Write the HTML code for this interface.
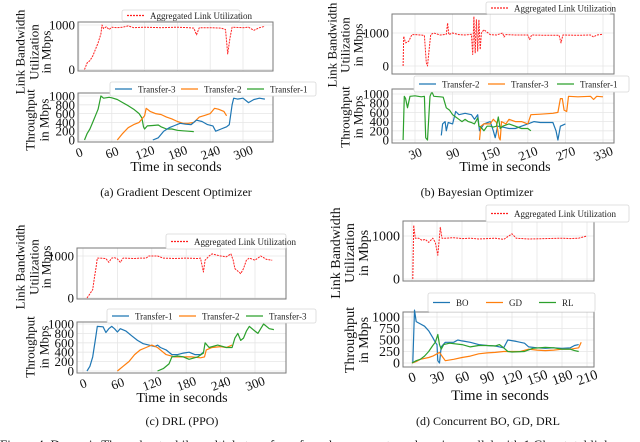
<!DOCTYPE html>
<html><head><meta charset="utf-8"><style>
html,body{margin:0;padding:0;background:#fff;width:640px;height:442px;overflow:hidden}
svg{display:block}
</style></head><body>
<svg id="fig" width="640" height="442" viewBox="0 0 640 442" xmlns="http://www.w3.org/2000/svg"></svg>
<script>
// ---------- DATA ----------
const aAggT=[10,15,20,25,30,35,40,42,45,50,55,60,70,80,90,100,120,150,180,200,210,215,220,240,260,268,272,276,280,300,310,320,330,340];
const aAggV=[0,150,200,300,450,600,800,1000,920,960,900,950,940,950,980,940,950,940,950,940,930,780,940,940,930,900,350,700,950,940,950,880,940,970];
const aT1T=[10,15,20,25,30,35,40,45,55,60,70,80,90,100,110,115,118,120,125,135,145,150,160,170,180,190,200,210];
const aT1V=[0,150,250,400,550,700,1000,950,970,960,920,850,780,700,600,500,300,250,320,330,340,300,250,250,220,210,200,190];
const aT2T=[70,80,90,100,110,120,123,130,140,150,160,170,180,190,200,210,220,230,240,248,255,265,270];
const aT2V=[0,150,280,350,400,550,720,650,600,580,520,480,420,380,380,400,520,560,600,720,700,650,550];
const aT3T=[135,145,155,165,175,185,195,205,215,225,235,245,250,260,270,275,280,283,290,300,310,320,330,340];
const aT3V=[0,50,200,280,330,380,360,350,450,420,350,320,200,250,300,350,800,950,930,950,850,920,950,930];
const bAggT=[11,12,15,20,25,30,40,45,48,50,52,55,60,70,80,82,84,90,100,110,120,122,124,126,128,130,132,134,136,140,150,160,170,172,175,190,210,213,216,240,260,263,266,290,310,315,320,330];
const bAggV=[0,900,700,750,950,950,940,920,100,0,400,950,1000,940,960,1300,950,1000,950,940,960,350,1500,400,1400,450,1400,500,1000,1100,950,940,1000,880,950,940,940,800,940,930,930,700,940,930,940,880,940,960];
const bT1T=[11,13,15,18,22,30,40,45,47,50,52,54,57,60,70,75,80,85,90,95,100,105,110,115,120,125,130,132,135,140,145,150,155,160,163,166,170,180,190,200,210,215];
const bT1V=[0,950,900,700,950,960,940,950,50,0,500,950,1050,950,940,930,700,650,550,500,450,400,450,400,380,350,480,300,280,200,300,300,280,300,500,250,300,350,300,250,250,200];
const bT2T=[72,74,78,80,83,90,95,100,110,120,125,130,133,140,150,155,158,162,170,180,190,200,210,220,230,240,250,255,258,262,270];
const bT2V=[100,350,400,200,380,350,620,550,580,550,450,550,200,350,400,200,50,300,280,250,250,300,350,400,380,380,380,200,0,300,350];
const bT3T=[133,135,140,150,155,160,164,166,168,175,180,190,200,210,215,230,250,258,262,265,268,272,275,290,310,315,320,330];
const bT3V=[0,300,350,350,450,380,50,0,400,350,450,400,400,350,550,560,580,600,900,900,650,620,950,940,950,880,950,940];
const cAggT=[7,12,17,20,23,25,30,40,45,50,55,60,65,70,90,100,110,115,130,140,160,180,200,205,210,213,220,225,240,250,258,262,265,275,280,285,290,300,310,320,330];
const cAggV=[0,100,200,500,750,950,950,940,850,950,960,930,850,950,940,950,950,1000,1000,950,940,950,940,950,620,900,1000,1050,1000,980,1050,900,700,580,700,900,950,900,1000,920,900];
const cT1T=[7,12,17,22,25,35,40,45,50,55,60,65,75,85,95,105,115,125,130,135,145,155,165,175,185,195,205,210];
const cT1V=[0,100,300,700,950,940,820,900,950,900,830,900,850,750,650,580,550,520,550,500,450,350,350,380,400,350,350,400];
const cT2T=[60,70,80,90,100,110,120,130,135,145,160,175,190,205,212,215,225,240,250,260];
const cT2V=[0,100,200,350,450,500,550,500,450,350,300,300,300,280,300,450,500,520,500,550];
const cT3T=[130,140,150,155,165,175,185,200,210,213,220,235,250,260,265,270,275,280,285,290,300,305,310,315,325,333];
const cT3V=[0,50,150,300,320,300,250,300,380,600,500,550,500,500,700,800,650,700,850,950,850,800,900,1000,900,880];
const dAggT=[1,2,4,8,12,16,20,25,28,31,34,36,40,50,60,70,80,90,100,110,120,125,140,160,180,190,200,210];
const dAggV=[0,1250,950,950,900,920,850,950,850,550,1200,950,950,960,940,950,930,940,950,920,1050,950,930,940,950,940,950,1000];
const dBOT=[1,3,5,10,15,20,25,28,30,31,33,35,40,50,55,60,70,80,90,100,110,115,125,135,140,150,160,170,180,190,195,200];
const dBOV=[0,1150,900,850,800,700,550,450,400,50,0,350,450,450,500,480,450,400,380,370,330,500,470,430,350,330,320,330,320,330,380,400];
const dGDT=[0,5,10,20,25,30,33,36,40,50,60,70,80,90,100,110,120,130,140,150,160,170,180,190,200,203];
const dGDV=[0,30,80,120,150,200,230,150,50,80,120,150,200,220,230,250,250,250,300,280,270,280,300,300,330,450];
const dRLT=[0,5,10,15,20,25,28,31,33,35,38,45,60,70,80,90,100,105,110,115,120,135,145,160,170,180,190,195,200];
const dRLV=[0,50,80,150,250,380,450,620,400,300,400,430,400,350,380,380,370,400,330,250,240,250,320,340,330,300,300,270,250];
const aXTicks=[0,60,120,180,240,300];
const bXTicks=[30,90,150,210,270,330];
const cXTicks=[0,60,120,180,240,300];
const dXTicks=[0,30,60,90,120,150,180,210];
const topYTicks=[0,1000];
const thrYTicks=[0,200,400,600,800,1000];
const dThrYTicks=[0,250,500,750,1000];

// ---------- DRAWING ----------
const NS='http://www.w3.org/2000/svg';
const svg=document.getElementById('fig');
function mk(tag,attrs,parent){const e=document.createElementNS(NS,tag);for(const k in attrs)e.setAttribute(k,attrs[k]);(parent||svg).appendChild(e);return e;}
function txt(s,attrs,parent){const fs=attrs['font-size'];delete attrs['font-size'];
  attrs.style="font-family:'Liberation Serif','Times New Roman',serif;font-size:"+fs+"px";
  const e=mk('text',attrs,parent);e.textContent=s;return e;}
const BLUE='#1f77b4',ORANGE='#ff7f0e',GREEN='#2ca02c';

function axes(box,xa,ya,xTicks,yTicks,name,showXLabels,xlabY,fs){
  fs=fs||13;
  const sx=v=>xa[1]+(v-xa[0])*(xa[3]-xa[1])/(xa[2]-xa[0]);
  const sy=v=>ya[0]+v*(ya[1]-ya[0])/1000;
  const g=mk('g',{});
  
  
  xTicks.forEach(t=>{const x=sx(t);if(x>box[0]&&x<box[1]){const l=mk('line',{x1:x,x2:x,y1:box[2],y2:box[3],stroke:'#e6e6e6','stroke-width':0.8},g);}});
  yTicks.forEach(v=>{const y=sy(v);const l=mk('line',{x1:box[0],x2:box[1],y1:y,y2:y,stroke:'#e6e6e6','stroke-width':0.8},g);
    const t=txt(String(v),{x:box[0]-3,y:y+4.5,'text-anchor':'end','font-size':fs,fill:'#111'},g);});
  const fr=mk('rect',{x:box[0],y:box[2],width:box[1]-box[0],height:box[3]-box[2],fill:'none',stroke:'#7a7a7a','stroke-width':1},g);
  
  if(showXLabels){xTicks.forEach(t=>{const x=sx(t);const lb=txt(String(t),{x:x,y:xlabY,'text-anchor':'middle','font-size':fs,fill:'#111',transform:`rotate(-20 ${x} ${xlabY-5})`},g);});}
  return {sx,sy,g};
}
function series(ax,T,V,color,name,dash){
  const d=T.map((t,i)=>(i?'L':'M')+ax.sx(t).toFixed(1)+','+ax.sy(V[i]).toFixed(1)).join('');
  const p=mk('path',{d:d,fill:'none',stroke:color,'stroke-width':dash?1:1.2,'stroke-dasharray':dash?'2,1':'none','stroke-linejoin':'round'},ax.g);
  
  
}
function legend(x,y,w,h,entries,name){
  const g=mk('g',{});
  
  
  mk('rect',{x:x,y:y,width:w,height:h,rx:2,fill:'#fff',stroke:'#d8d8d8','stroke-width':0.8},g);
  const n=entries.length,step=(w-8)/n;
  entries.forEach((e,i)=>{const lx=x+5+i*step,cy=y+h/2;
    const it=mk('g',{},g);
    mk('line',{x1:lx,x2:lx+17,y1:cy,y2:cy,stroke:e[1],'stroke-width':1.2,'stroke-dasharray':e[2]?'2,1':'none'},it);
    txt(e[0],{x:lx+23,y:cy+3.3,'font-size':9,fill:'#222'},it);});
}
function ylabel(lines,xs,cy,name,fs){
  const g=mk('g',{});
  lines.forEach((s,i)=>txt(s,{x:xs[i],y:cy+0,'text-anchor':'middle','font-size':fs||13,fill:'#111',transform:`rotate(-90 ${xs[i]} ${cy})`,dy:'0.35em'},g));
}
function label(s,x,y,fs,name){const t=txt(s,{x:x,y:y,'text-anchor':'middle','font-size':fs,fill:'#111'});}

// (a)
let ax=axes([78,273,22,71],[0,79,300,243],[69.5,25],aXTicks,topYTicks,'a-utilization-plot',false);
series(ax,aAggT,aAggV,'#ff2020','a-aggregated-line',true);
ax=axes([78,273,93,142],[0,79,300,243],[140,96],aXTicks,thrYTicks,'a-throughput-plot',true,157);
series(ax,aT1T,aT1V,GREEN,'a-transfer-1-line');series(ax,aT2T,aT2V,ORANGE,'a-transfer-2-line');series(ax,aT3T,aT3V,BLUE,'a-transfer-3-line');
legend(122,10,118,11,[['Aggregated Link Utilization','#ff2020',true]],'a-top-legend');
legend(110,82,206,14,[['Transfer-3',BLUE],['Transfer-2',ORANGE],['Transfer-1',GREEN]],'a-bottom-legend');
ylabel(['Link Bandwidth','Utilization','in Mbps'],[20,34,46],52,'a-top-y-axis-title');
ylabel(['Throughput','in Mbps'],[30,44],120,'a-bottom-y-axis-title');
label('Time in seconds',176,171,14,'a-x-axis-title');
label('(a) Gradient Descent Optimizer',176,196,12,'a-caption');
// (b)
ax=axes([392,614,14,74],[30,415,330,603],[66,33],bXTicks,topYTicks,'b-utilization-plot',false);
series(ax,bAggT,bAggV,'#ff2020','b-aggregated-line',true);
ax=axes([392,614,89,143],[30,415,330,603],[140,94],bXTicks,thrYTicks,'b-throughput-plot',true,158);
series(ax,bT2T,bT2V,BLUE,'b-transfer-2-line');series(ax,bT3T,bT3V,ORANGE,'b-transfer-3-line');series(ax,bT1T,bT1V,GREEN,'b-transfer-1-line');
legend(486,2,125,12,[['Aggregated Link Utilization','#ff2020',true]],'b-top-legend');
legend(414,76,215,16,[['Transfer-2',BLUE],['Transfer-3',ORANGE],['Transfer-1',GREEN]],'b-bottom-legend');
ylabel(['Link Bandwidth','Utilization','in Mbps'],[332,345,358],45,'b-top-y-axis-title');
ylabel(['Throughput','in Mbps'],[345,358],117,'b-bottom-y-axis-title');
label('Time in seconds',505,171,14,'b-x-axis-title');
label('(b) Bayesian Optimizer',477,196,12,'b-caption');
// (c)
ax=axes([77,286,248,299],[0,83,300,255],[298,256],cXTicks,topYTicks,'c-utilization-plot',false);
series(ax,cAggT,cAggV,'#ff2020','c-aggregated-line',true);
ax=axes([77,286,322,373],[0,83,300,255],[371,324],cXTicks,thrYTicks,'c-throughput-plot',true,388);
series(ax,cT1T,cT1V,BLUE,'c-transfer-1-line');series(ax,cT2T,cT2V,ORANGE,'c-transfer-2-line');series(ax,cT3T,cT3V,GREEN,'c-transfer-3-line');
legend(166,234,120,15,[['Aggregated Link Utilization','#ff2020',true]],'c-top-legend');
legend(107,309,209,14,[['Transfer-1',BLUE],['Transfer-2',ORANGE],['Transfer-3',GREEN]],'c-bottom-legend');
ylabel(['Link Bandwidth','Utilization','in Mbps'],[20,34,46],267,'c-top-y-axis-title');
ylabel(['Throughput','in Mbps'],[30,44],347,'c-bottom-y-axis-title');
label('Time in seconds',182,402,14,'c-x-axis-title');
label('(c) DRL (PPO)',182,425,12,'c-caption');
// (d)
ax=axes([403,594,221,281],[0,412,210,587],[279,236],dXTicks,topYTicks,'d-utilization-plot',false,0,14);
series(ax,dAggT,dAggV,'#ff2020','d-aggregated-line',true);
ax=axes([403,594,312,367],[0,412,210,587],[363,317],dXTicks,dThrYTicks,'d-throughput-plot',true,382,14);
series(ax,dBOT,dBOV,BLUE,'d-bo-line');series(ax,dGDT,dGDV,ORANGE,'d-gd-line');series(ax,dRLT,dRLV,GREEN,'d-rl-line');
legend(486,205,143,17,[['Aggregated Link Utilization','#ff2020',true]],'d-top-legend');
legend(428,293,167,19,[['BO',BLUE],['GD',ORANGE],['RL',GREEN]],'d-bottom-legend');
ylabel(['Link Bandwidth','Utilization','in Mbps'],[335,349,363],253,'d-top-y-axis-title',14);
ylabel(['Throughput','in Mbps'],[349,363],340,'d-bottom-y-axis-title',14);
label('Time in seconds',500,400,15,'d-x-axis-title');
label('(d) Concurrent BO, GD, DRL',488,425,12,'d-caption');
const fc=txt('Figure 4: Dynamic Throughput while multiple transfers of much ... compete and run in parallel with 1 Gbps total link',{x:0,y:449,'font-size':13,fill:'#111'});


</script>
</body></html>
